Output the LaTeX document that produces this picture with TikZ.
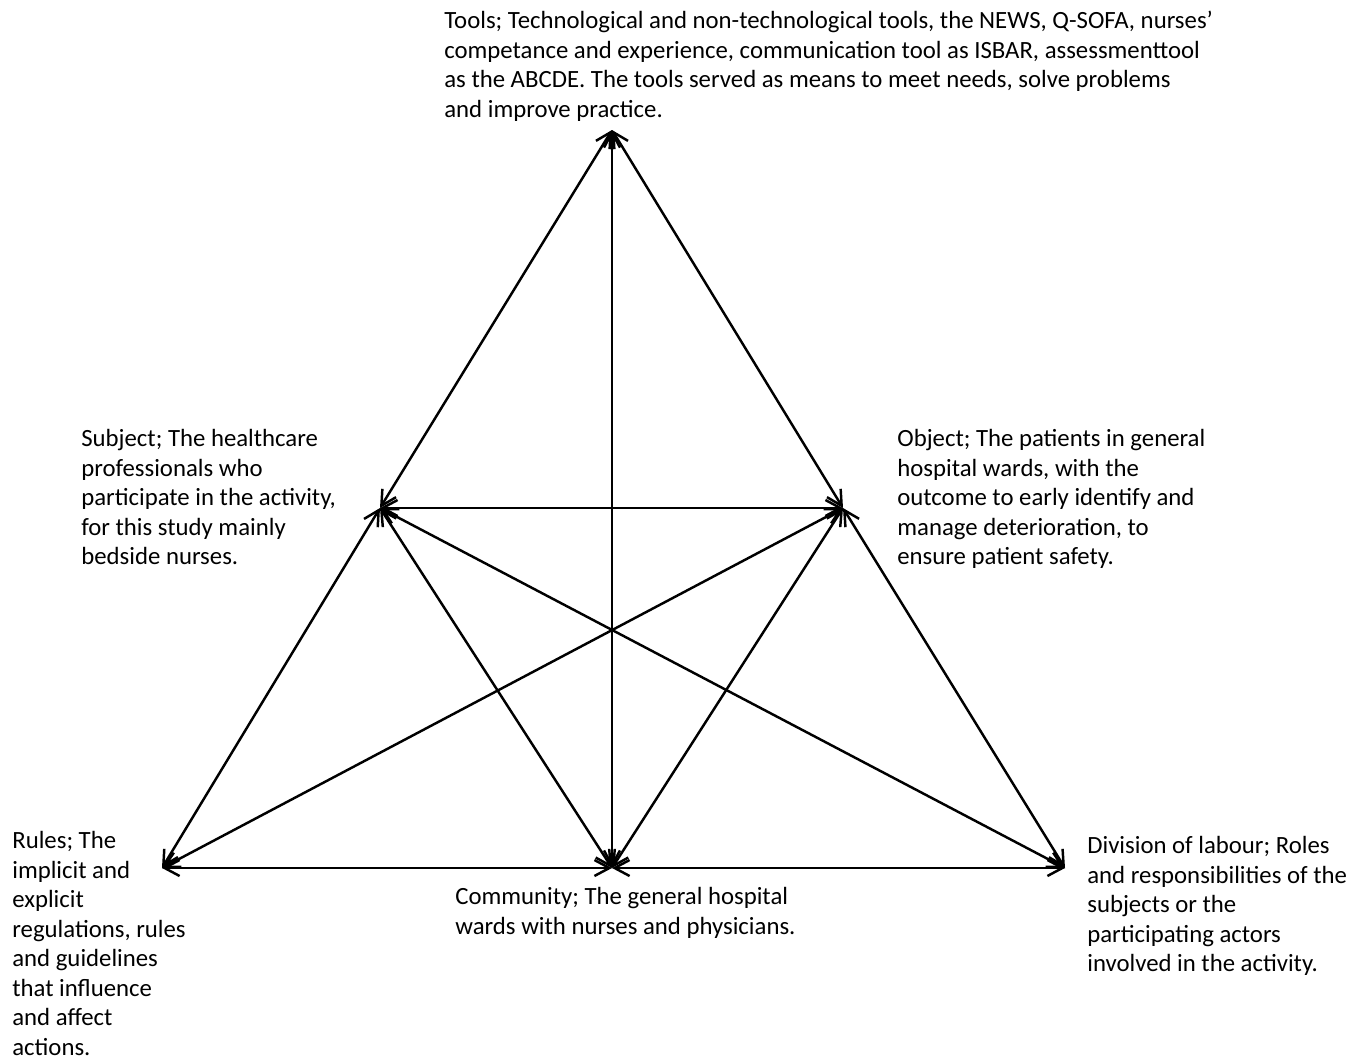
\documentclass[tikz,border=0pt]{standalone}
\usepackage{fontspec}
\setmainfont{Carlito}
\usetikzlibrary{arrows.meta}

\begin{document}
\begin{tikzpicture}[x=0.02cm,y=-0.02cm,
    link/.style={line width=1.4pt,{Straight Barb[length=0.3cm,width=0.32cm]}-{Straight Barb[length=0.3cm,width=0.32cm]}},
    desc/.style={anchor=north west,align=left,inner sep=0pt,font=\fontsize{14.1}{16.8}\selectfont}]
        \useasboundingbox (0,0) rectangle (1363,1059);
        % corners of the activity system
        \coordinate (tools) at (612,130);
        \coordinate (subject) at (380,508);
        \coordinate (object) at (843,508);
        \coordinate (rules) at (162,868);
        \coordinate (community) at (612,868);
        \coordinate (division) at (1065,868);
        \draw[link] (tools)--(subject);
        \draw[link] (tools)--(object);
        \draw[link] (tools)--(community);
        \draw[link] (subject)--(object);
        \draw[link] (subject)--(rules);
        \draw[link] (subject)--(community);
        \draw[link] (subject)--(division);
        \draw[link] (object)--(rules);
        \draw[link] (object)--(community);
        \draw[link] (object)--(division);
        \draw[link] (rules)--(community);
        \draw[link] (community)--(division);
        % labels
        \node[desc] (toolstext) at (444,11) {Tools; Technological and non-technological tools, the NEWS, Q-SOFA, nurses’\\competance and experience, communication tool as ISBAR, assessmenttool\\as the ABCDE. The tools served as means to meet needs, solve problems\\and improve practice.};
        \node[desc] (subjecttext) at (81,429) {Subject; The healthcare\\professionals who\\participate in the activity,\\for this study mainly\\bedside nurses.};
        \node[desc] (objecttext) at (897,429) {Object; The patients in general\\hospital wards, with the\\outcome to early identify and\\manage deterioration, to\\ensure patient safety.};
        \node[desc] (rulestext) at (12,831) {Rules; The\\implicit and\\explicit\\regulations, rules\\and guidelines\\that influence\\and affect\\actions.};
        \node[desc] (communitytext) at (455,887) {Community; The general hospital\\wards with nurses and physicians.};
        \node[desc] (divisiontext) at (1087,836) {Division of labour; Roles\\and responsibilities of the\\subjects or the\\participating actors\\involved in the activity.};
      \end{tikzpicture}
\end{document}
